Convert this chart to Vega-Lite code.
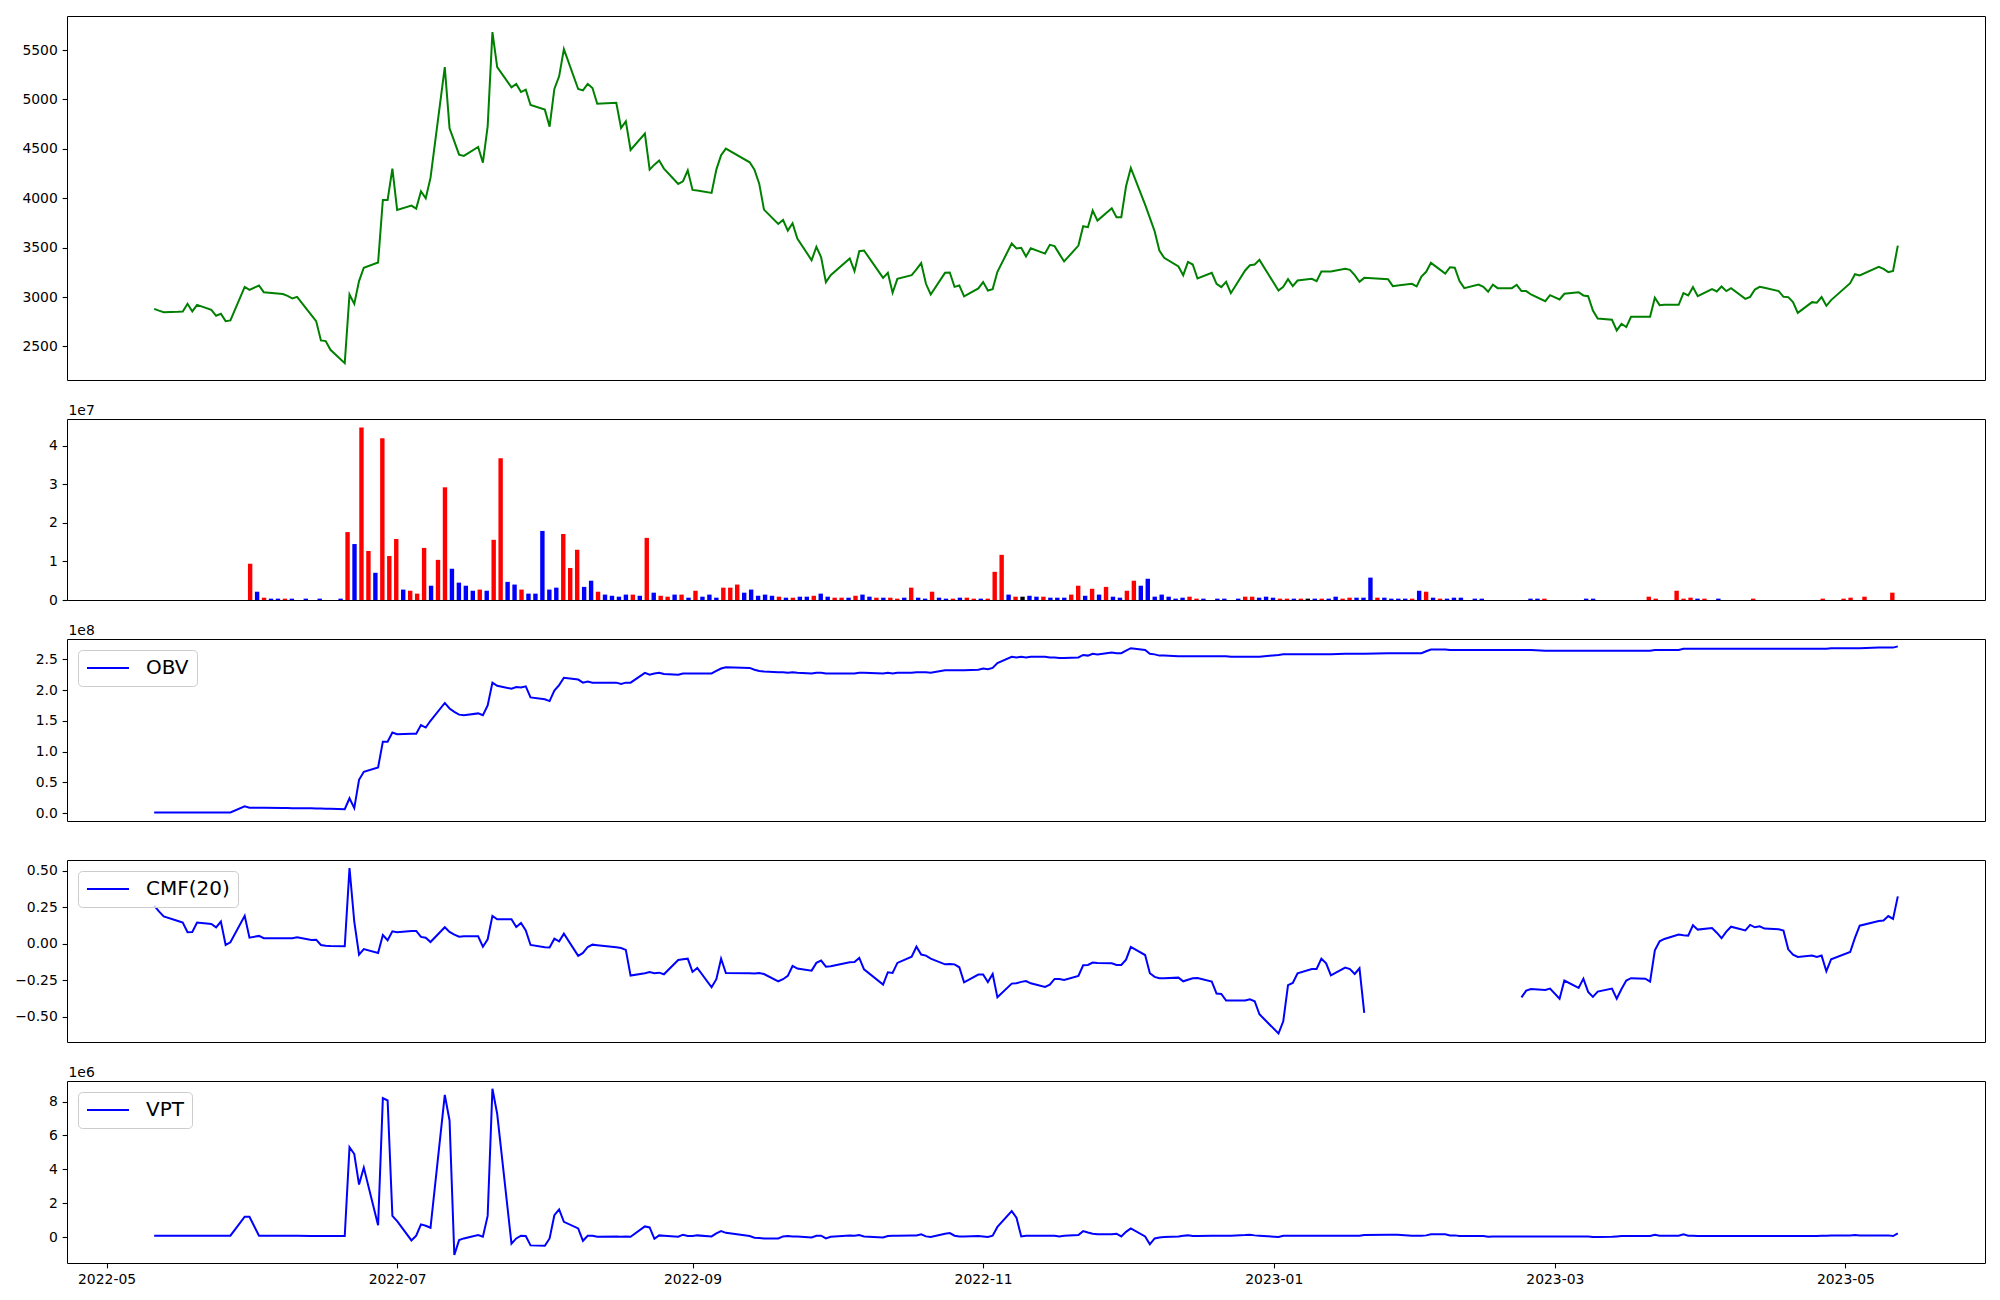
{
"$schema": "https://vega.github.io/schema/vega-lite/v6.json",
"padding": {"left": 14, "top": 15, "right": 0, "bottom": 0},
"background": "white",
"config": {
 "view": {"stroke": "black", "strokeWidth": 1},
 "font": "DejaVu Sans",
 "axis": {"grid": false, "domain": false, "tickColor": "black", "tickSize": 4.86, "tickWidth": 1.1, "labelPadding": 4.86, "labelFont": "DejaVu Sans", "labelFontSize": 13.9, "labelColor": "black", "titleFont": "DejaVu Sans", "titleFontSize": 13.9, "titleFontWeight": "normal", "titleColor": "black", "labelFlush": false, "labelOverlap": false},
 "legend": {"orient": "top-left", "offset": 11, "padding": 8, "strokeColor": "#cccccc", "fillColor": "rgba(255,255,255,0.8)", "cornerRadius": 4, "labelFont": "DejaVu Sans", "labelFontSize": 20, "labelColor": "black", "labelOffset": 16, "symbolType": "stroke", "symbolSize": 1764, "symbolStrokeWidth": 2, "clipHeight": 20}
},
"datasets": {
 "d": [
{"date":"2022-05-11","close":2880,"obv":1000000,"cmf":0.26,"vpt":80000},
{"date":"2022-05-12","close":2862,"obv":1000000,"cmf":0.221,"vpt":80000},
{"date":"2022-05-13","close":2847,"obv":1000000,"cmf":0.187,"vpt":80000},
{"date":"2022-05-16","close":2850,"obv":1000000,"cmf":0.155,"vpt":80000},
{"date":"2022-05-17","close":2853,"obv":1000000,"cmf":0.145,"vpt":80000},
{"date":"2022-05-18","close":2931,"obv":1000000,"cmf":0.078,"vpt":80000},
{"date":"2022-05-19","close":2854,"obv":1000000,"cmf":0.08,"vpt":80000},
{"date":"2022-05-20","close":2921,"obv":1000000,"cmf":0.144,"vpt":80000},
{"date":"2022-05-23","close":2871,"obv":1000000,"cmf":0.135,"vpt":80000},
{"date":"2022-05-24","close":2810,"obv":1000000,"cmf":0.112,"vpt":80000},
{"date":"2022-05-25","close":2830,"obv":1000000,"cmf":0.151,"vpt":80000},
{"date":"2022-05-26","close":2756,"obv":1000000,"cmf":-0.009,"vpt":80000},
{"date":"2022-05-27","close":2763,"obv":1000000,"cmf":0.009,"vpt":80000},
{"date":"2022-05-30","close":3103,"obv":10800000,"cmf":0.19,"vpt":1200000},
{"date":"2022-05-31","close":3073,"obv":8700000,"cmf":0.041,"vpt":1200000},
{"date":"2022-06-02","close":3117,"obv":8700000,"cmf":0.053,"vpt":80000},
{"date":"2022-06-03","close":3049,"obv":8500000,"cmf":0.037,"vpt":80000},
{"date":"2022-06-07","close":3030,"obv":8300000,"cmf":0.037,"vpt":80000},
{"date":"2022-06-08","close":3012,"obv":8100000,"cmf":0.037,"vpt":80000},
{"date":"2022-06-09","close":2985,"obv":7900000,"cmf":0.037,"vpt":80000},
{"date":"2022-06-10","close":3002,"obv":7900000,"cmf":0.043,"vpt":80000},
{"date":"2022-06-13","close":2817,"obv":7700000,"cmf":0.025,"vpt":70000},
{"date":"2022-06-14","close":2756,"obv":7500000,"cmf":0.027,"vpt":60000},
{"date":"2022-06-15","close":2561,"obv":7300000,"cmf":-0.009,"vpt":60000},
{"date":"2022-06-16","close":2554,"obv":7100000,"cmf":-0.014,"vpt":60000},
{"date":"2022-06-17","close":2466,"obv":6800000,"cmf":-0.016,"vpt":60000},
{"date":"2022-06-20","close":2331,"obv":6200000,"cmf":-0.018,"vpt":60000},
{"date":"2022-06-21","close":3026,"obv":24000000,"cmf":0.518,"vpt":5300000},
{"date":"2022-06-22","close":2931,"obv":8000000,"cmf":0.15,"vpt":4900000},
{"date":"2022-06-23","close":3161,"obv":54000000,"cmf":-0.075,"vpt":3100000},
{"date":"2022-06-24","close":3296,"obv":67000000,"cmf":-0.037,"vpt":4100000},
{"date":"2022-06-27","close":3349,"obv":74000000,"cmf":-0.064,"vpt":700000},
{"date":"2022-06-28","close":3983,"obv":116000000,"cmf":0.059,"vpt":8200000},
{"date":"2022-06-29","close":3983,"obv":116000000,"cmf":0.023,"vpt":8060000},
{"date":"2022-06-30","close":4300,"obv":131000000,"cmf":0.084,"vpt":1250000},
{"date":"2022-07-01","close":3882,"obv":128000000,"cmf":0.078,"vpt":940000},
{"date":"2022-07-04","close":3926,"obv":129000000,"cmf":0.087,"vpt":-200000},
{"date":"2022-07-05","close":3895,"obv":129000000,"cmf":0.087,"vpt":80000},
{"date":"2022-07-06","close":4071,"obv":143000000,"cmf":0.046,"vpt":750000},
{"date":"2022-07-07","close":4000,"obv":139000000,"cmf":0.041,"vpt":670000},
{"date":"2022-07-08","close":4206,"obv":150000000,"cmf":0.011,"vpt":550000},
{"date":"2022-07-11","close":5328,"obv":179000000,"cmf":0.112,"vpt":8390000},
{"date":"2022-07-12","close":4708,"obv":170000000,"cmf":0.08,"vpt":6880000},
{"date":"2022-07-13","close":4576,"obv":164500000,"cmf":0.062,"vpt":-1060000},
{"date":"2022-07-14","close":4442,"obv":160000000,"cmf":0.048,"vpt":-180000},
{"date":"2022-07-15","close":4428,"obv":159000000,"cmf":0.05,"vpt":-80000},
{"date":"2022-07-18","close":4519,"obv":162000000,"cmf":0.05,"vpt":120000},
{"date":"2022-07-19","close":4361,"obv":159000000,"cmf":-0.021,"vpt":20000},
{"date":"2022-07-20","close":4728,"obv":175000000,"cmf":0.03,"vpt":1250000},
{"date":"2022-07-21","close":5682,"obv":212000000,"cmf":0.19,"vpt":8750000},
{"date":"2022-07-22","close":5328,"obv":207000000,"cmf":0.167,"vpt":7270000},
{"date":"2022-07-25","close":5123,"obv":202000000,"cmf":0.167,"vpt":-390000},
{"date":"2022-07-26","close":5157,"obv":205000000,"cmf":0.114,"vpt":-80000},
{"date":"2022-07-27","close":5075,"obv":204000000,"cmf":0.142,"vpt":80000},
{"date":"2022-07-28","close":5099,"obv":206000000,"cmf":0.091,"vpt":60000},
{"date":"2022-07-29","close":4944,"obv":188000000,"cmf":-0.009,"vpt":-490000},
{"date":"2022-08-01","close":4897,"obv":185000000,"cmf":-0.025,"vpt":-510000},
{"date":"2022-08-02","close":4725,"obv":182000000,"cmf":-0.027,"vpt":-80000},
{"date":"2022-08-03","close":5106,"obv":199000000,"cmf":0.034,"vpt":1290000},
{"date":"2022-08-04","close":5234,"obv":208000000,"cmf":0.016,"vpt":1630000},
{"date":"2022-08-05","close":5510,"obv":220000000,"cmf":0.068,"vpt":900000},
{"date":"2022-08-08","close":5106,"obv":217000000,"cmf":-0.084,"vpt":510000},
{"date":"2022-08-09","close":5092,"obv":212000000,"cmf":-0.064,"vpt":-220000},
{"date":"2022-08-10","close":5157,"obv":214000000,"cmf":-0.023,"vpt":80000},
{"date":"2022-08-11","close":5116,"obv":212000000,"cmf":-0.007,"vpt":80000},
{"date":"2022-08-12","close":4957,"obv":212000000,"cmf":-0.011,"vpt":20000},
{"date":"2022-08-16","close":4967,"obv":212000000,"cmf":-0.025,"vpt":40000},
{"date":"2022-08-17","close":4711,"obv":210000000,"cmf":-0.03,"vpt":20000},
{"date":"2022-08-18","close":4779,"obv":212000000,"cmf":-0.043,"vpt":40000},
{"date":"2022-08-19","close":4489,"obv":212000000,"cmf":-0.219,"vpt":20000},
{"date":"2022-08-22","close":4654,"obv":228000000,"cmf":-0.203,"vpt":630000},
{"date":"2022-08-23","close":4290,"obv":225000000,"cmf":-0.194,"vpt":570000},
{"date":"2022-08-24","close":4340,"obv":227000000,"cmf":-0.203,"vpt":-100000},
{"date":"2022-08-25","close":4381,"obv":228000000,"cmf":-0.199,"vpt":100000},
{"date":"2022-08-26","close":4300,"obv":226000000,"cmf":-0.21,"vpt":80000},
{"date":"2022-08-29","close":4145,"obv":225000000,"cmf":-0.112,"vpt":20000},
{"date":"2022-08-30","close":4172,"obv":227000000,"cmf":-0.107,"vpt":140000},
{"date":"2022-08-31","close":4283,"obv":227000000,"cmf":-0.103,"vpt":60000},
{"date":"2022-09-01","close":4084,"obv":227000000,"cmf":-0.194,"vpt":60000},
{"date":"2022-09-02","close":4078,"obv":227000000,"cmf":-0.167,"vpt":100000},
{"date":"2022-09-05","close":4054,"obv":227000000,"cmf":-0.299,"vpt":40000},
{"date":"2022-09-06","close":4290,"obv":231000000,"cmf":-0.244,"vpt":220000},
{"date":"2022-09-07","close":4435,"obv":235000000,"cmf":-0.103,"vpt":350000},
{"date":"2022-09-08","close":4502,"obv":237000000,"cmf":-0.201,"vpt":250000},
{"date":"2022-09-13","close":4364,"obv":236000000,"cmf":-0.203,"vpt":60000},
{"date":"2022-09-14","close":4290,"obv":233000000,"cmf":-0.205,"vpt":-40000},
{"date":"2022-09-15","close":4148,"obv":231000000,"cmf":-0.201,"vpt":-60000},
{"date":"2022-09-16","close":3885,"obv":230000000,"cmf":-0.208,"vpt":-80000},
{"date":"2022-09-19","close":3740,"obv":229000000,"cmf":-0.258,"vpt":-80000},
{"date":"2022-09-20","close":3781,"obv":229000000,"cmf":-0.244,"vpt":40000},
{"date":"2022-09-21","close":3673,"obv":228000000,"cmf":-0.221,"vpt":60000},
{"date":"2022-09-22","close":3747,"obv":229000000,"cmf":-0.153,"vpt":40000},
{"date":"2022-09-23","close":3592,"obv":228000000,"cmf":-0.171,"vpt":40000},
{"date":"2022-09-26","close":3373,"obv":227000000,"cmf":-0.185,"vpt":-20000},
{"date":"2022-09-27","close":3508,"obv":228000000,"cmf":-0.132,"vpt":80000},
{"date":"2022-09-28","close":3403,"obv":228000000,"cmf":-0.116,"vpt":80000},
{"date":"2022-09-29","close":3151,"obv":227000000,"cmf":-0.158,"vpt":-80000},
{"date":"2022-09-30","close":3221,"obv":227000000,"cmf":-0.155,"vpt":20000},
{"date":"2022-10-04","close":3390,"obv":227000000,"cmf":-0.128,"vpt":100000},
{"date":"2022-10-05","close":3262,"obv":227000000,"cmf":-0.126,"vpt":80000},
{"date":"2022-10-06","close":3464,"obv":228000000,"cmf":-0.098,"vpt":120000},
{"date":"2022-10-07","close":3471,"obv":228000000,"cmf":-0.176,"vpt":40000},
{"date":"2022-10-11","close":3194,"obv":227000000,"cmf":-0.281,"vpt":-20000},
{"date":"2022-10-12","close":3245,"obv":228000000,"cmf":-0.196,"vpt":60000},
{"date":"2022-10-13","close":3043,"obv":227000000,"cmf":-0.201,"vpt":80000},
{"date":"2022-10-14","close":3184,"obv":228000000,"cmf":-0.132,"vpt":80000},
{"date":"2022-10-17","close":3221,"obv":228000000,"cmf":-0.089,"vpt":100000},
{"date":"2022-10-18","close":3279,"obv":229000000,"cmf":-0.021,"vpt":100000},
{"date":"2022-10-19","close":3343,"obv":229000000,"cmf":-0.075,"vpt":160000},
{"date":"2022-10-20","close":3134,"obv":229000000,"cmf":-0.082,"vpt":40000},
{"date":"2022-10-21","close":3026,"obv":228000000,"cmf":-0.103,"vpt":0},
{"date":"2022-10-24","close":3245,"obv":232000000,"cmf":-0.142,"vpt":200000},
{"date":"2022-10-25","close":3248,"obv":232000000,"cmf":-0.139,"vpt":240000},
{"date":"2022-10-26","close":3103,"obv":232000000,"cmf":-0.142,"vpt":80000},
{"date":"2022-10-27","close":3117,"obv":232000000,"cmf":-0.162,"vpt":40000},
{"date":"2022-10-28","close":3006,"obv":232000000,"cmf":-0.265,"vpt":40000},
{"date":"2022-10-31","close":3087,"obv":233000000,"cmf":-0.212,"vpt":60000},
{"date":"2022-11-01","close":3151,"obv":235000000,"cmf":-0.212,"vpt":40000},
{"date":"2022-11-02","close":3066,"obv":234000000,"cmf":-0.263,"vpt":0},
{"date":"2022-11-03","close":3080,"obv":236000000,"cmf":-0.208,"vpt":80000},
{"date":"2022-11-04","close":3255,"obv":244000000,"cmf":-0.368,"vpt":600000},
{"date":"2022-11-07","close":3542,"obv":254000000,"cmf":-0.274,"vpt":1530000},
{"date":"2022-11-08","close":3491,"obv":253000000,"cmf":-0.272,"vpt":1140000},
{"date":"2022-11-09","close":3498,"obv":254000000,"cmf":-0.262,"vpt":40000},
{"date":"2022-11-10","close":3410,"obv":253000000,"cmf":-0.256,"vpt":80000},
{"date":"2022-11-11","close":3494,"obv":254000000,"cmf":-0.272,"vpt":80000},
{"date":"2022-11-14","close":3440,"obv":254000000,"cmf":-0.297,"vpt":80000},
{"date":"2022-11-15","close":3528,"obv":253000000,"cmf":-0.281,"vpt":80000},
{"date":"2022-11-16","close":3515,"obv":253000000,"cmf":-0.242,"vpt":80000},
{"date":"2022-11-17","close":3437,"obv":252000000,"cmf":-0.242,"vpt":40000},
{"date":"2022-11-18","close":3360,"obv":252000000,"cmf":-0.249,"vpt":80000},
{"date":"2022-11-21","close":3521,"obv":253000000,"cmf":-0.221,"vpt":120000},
{"date":"2022-11-22","close":3717,"obv":257000000,"cmf":-0.148,"vpt":350000},
{"date":"2022-11-23","close":3707,"obv":256000000,"cmf":-0.146,"vpt":270000},
{"date":"2022-11-24","close":3875,"obv":259000000,"cmf":-0.13,"vpt":200000},
{"date":"2022-11-25","close":3774,"obv":258000000,"cmf":-0.132,"vpt":160000},
{"date":"2022-11-28","close":3899,"obv":261000000,"cmf":-0.135,"vpt":160000},
{"date":"2022-11-29","close":3808,"obv":260000000,"cmf":-0.146,"vpt":200000},
{"date":"2022-11-30","close":3808,"obv":260000000,"cmf":-0.146,"vpt":40000},
{"date":"2022-12-01","close":4121,"obv":264000000,"cmf":-0.11,"vpt":310000},
{"date":"2022-12-02","close":4307,"obv":268000000,"cmf":-0.023,"vpt":510000},
{"date":"2022-12-05","close":3936,"obv":265000000,"cmf":-0.078,"vpt":40000},
{"date":"2022-12-06","close":3801,"obv":259000000,"cmf":-0.203,"vpt":-430000},
{"date":"2022-12-07","close":3666,"obv":258000000,"cmf":-0.228,"vpt":-80000},
{"date":"2022-12-08","close":3471,"obv":256000000,"cmf":-0.237,"vpt":-20000},
{"date":"2022-12-09","close":3397,"obv":256000000,"cmf":-0.237,"vpt":0},
{"date":"2022-12-12","close":3309,"obv":255000000,"cmf":-0.233,"vpt":40000},
{"date":"2022-12-13","close":3221,"obv":255000000,"cmf":-0.258,"vpt":80000},
{"date":"2022-12-14","close":3356,"obv":255000000,"cmf":-0.247,"vpt":100000},
{"date":"2022-12-15","close":3329,"obv":255000000,"cmf":-0.237,"vpt":60000},
{"date":"2022-12-16","close":3188,"obv":255000000,"cmf":-0.235,"vpt":60000},
{"date":"2022-12-19","close":3245,"obv":255000000,"cmf":-0.26,"vpt":80000},
{"date":"2022-12-20","close":3134,"obv":255000000,"cmf":-0.342,"vpt":80000},
{"date":"2022-12-21","close":3100,"obv":255000000,"cmf":-0.345,"vpt":80000},
{"date":"2022-12-22","close":3154,"obv":255000000,"cmf":-0.39,"vpt":80000},
{"date":"2022-12-23","close":3039,"obv":254000000,"cmf":-0.39,"vpt":80000},
{"date":"2022-12-26","close":3269,"obv":254000000,"cmf":-0.39,"vpt":120000},
{"date":"2022-12-27","close":3322,"obv":254000000,"cmf":-0.381,"vpt":140000},
{"date":"2022-12-28","close":3329,"obv":254000000,"cmf":-0.395,"vpt":100000},
{"date":"2022-12-29","close":3376,"obv":254000000,"cmf":-0.484,"vpt":80000},
{"date":"2023-01-02","close":3066,"obv":257000000,"cmf":-0.616,"vpt":0},
{"date":"2023-01-03","close":3103,"obv":258000000,"cmf":-0.532,"vpt":80000},
{"date":"2023-01-04","close":3181,"obv":258000000,"cmf":-0.285,"vpt":80000},
{"date":"2023-01-05","close":3110,"obv":258000000,"cmf":-0.269,"vpt":80000},
{"date":"2023-01-06","close":3167,"obv":258000000,"cmf":-0.203,"vpt":80000},
{"date":"2023-01-09","close":3184,"obv":258000000,"cmf":-0.174,"vpt":80000},
{"date":"2023-01-10","close":3161,"obv":258000000,"cmf":-0.174,"vpt":80000},
{"date":"2023-01-11","close":3258,"obv":258000000,"cmf":-0.103,"vpt":80000},
{"date":"2023-01-12","close":3258,"obv":258000000,"cmf":-0.135,"vpt":80000},
{"date":"2023-01-13","close":3258,"obv":258000000,"cmf":-0.217,"vpt":80000},
{"date":"2023-01-16","close":3285,"obv":259000000,"cmf":-0.164,"vpt":80000},
{"date":"2023-01-17","close":3275,"obv":259000000,"cmf":-0.174,"vpt":80000},
{"date":"2023-01-18","close":3221,"obv":259000000,"cmf":-0.208,"vpt":80000},
{"date":"2023-01-19","close":3154,"obv":259000000,"cmf":-0.169,"vpt":80000},
{"date":"2023-01-20","close":3194,"obv":259000000,"cmf":-0.475,"vpt":120000},
{"date":"2023-01-25","close":3181,"obv":260000000,"cmf":null,"vpt":140000},
{"date":"2023-01-26","close":3110,"obv":260000000,"cmf":null,"vpt":140000},
{"date":"2023-01-27","close":3117,"obv":260000000,"cmf":null,"vpt":140000},
{"date":"2023-01-30","close":3134,"obv":260000000,"cmf":null,"vpt":80000},
{"date":"2023-01-31","close":3107,"obv":260000000,"cmf":null,"vpt":80000},
{"date":"2023-02-01","close":3208,"obv":260000000,"cmf":null,"vpt":80000},
{"date":"2023-02-02","close":3255,"obv":263000000,"cmf":null,"vpt":100000},
{"date":"2023-02-03","close":3346,"obv":266000000,"cmf":null,"vpt":160000},
{"date":"2023-02-06","close":3238,"obv":266000000,"cmf":null,"vpt":160000},
{"date":"2023-02-07","close":3302,"obv":265000000,"cmf":null,"vpt":100000},
{"date":"2023-02-08","close":3296,"obv":265000000,"cmf":null,"vpt":100000},
{"date":"2023-02-09","close":3161,"obv":265000000,"cmf":null,"vpt":60000},
{"date":"2023-02-10","close":3090,"obv":265000000,"cmf":null,"vpt":60000},
{"date":"2023-02-13","close":3127,"obv":265000000,"cmf":null,"vpt":60000},
{"date":"2023-02-14","close":3103,"obv":265000000,"cmf":null,"vpt":60000},
{"date":"2023-02-15","close":3053,"obv":265000000,"cmf":null,"vpt":20000},
{"date":"2023-02-16","close":3124,"obv":265000000,"cmf":null,"vpt":40000},
{"date":"2023-02-17","close":3090,"obv":265000000,"cmf":null,"vpt":40000},
{"date":"2023-02-20","close":3090,"obv":265000000,"cmf":null,"vpt":40000},
{"date":"2023-02-21","close":3124,"obv":265000000,"cmf":null,"vpt":40000},
{"date":"2023-02-22","close":3060,"obv":265000000,"cmf":-0.368,"vpt":40000},
{"date":"2023-02-23","close":3060,"obv":265000000,"cmf":-0.322,"vpt":40000},
{"date":"2023-02-24","close":3026,"obv":265000000,"cmf":-0.311,"vpt":40000},
{"date":"2023-02-27","close":2958,"obv":264000000,"cmf":-0.317,"vpt":40000},
{"date":"2023-02-28","close":3019,"obv":264000000,"cmf":-0.308,"vpt":40000},
{"date":"2023-03-02","close":2975,"obv":264000000,"cmf":-0.377,"vpt":40000},
{"date":"2023-03-03","close":3033,"obv":264000000,"cmf":-0.253,"vpt":40000},
{"date":"2023-03-06","close":3049,"obv":264000000,"cmf":-0.304,"vpt":40000},
{"date":"2023-03-07","close":3016,"obv":264000000,"cmf":-0.24,"vpt":40000},
{"date":"2023-03-08","close":3009,"obv":264000000,"cmf":-0.331,"vpt":40000},
{"date":"2023-03-09","close":2864,"obv":264000000,"cmf":-0.365,"vpt":0},
{"date":"2023-03-10","close":2783,"obv":264000000,"cmf":-0.329,"vpt":0},
{"date":"2023-03-13","close":2770,"obv":264000000,"cmf":-0.308,"vpt":20000},
{"date":"2023-03-14","close":2662,"obv":264000000,"cmf":-0.377,"vpt":40000},
{"date":"2023-03-15","close":2729,"obv":264000000,"cmf":-0.311,"vpt":60000},
{"date":"2023-03-16","close":2696,"obv":264000000,"cmf":-0.253,"vpt":60000},
{"date":"2023-03-17","close":2800,"obv":264000000,"cmf":-0.237,"vpt":60000},
{"date":"2023-03-20","close":2800,"obv":264000000,"cmf":-0.24,"vpt":60000},
{"date":"2023-03-21","close":2800,"obv":264000000,"cmf":-0.26,"vpt":60000},
{"date":"2023-03-22","close":2992,"obv":265000000,"cmf":-0.046,"vpt":140000},
{"date":"2023-03-23","close":2918,"obv":265000000,"cmf":0.016,"vpt":80000},
{"date":"2023-03-24","close":2921,"obv":265000000,"cmf":0.032,"vpt":80000},
{"date":"2023-03-27","close":2921,"obv":265000000,"cmf":0.062,"vpt":80000},
{"date":"2023-03-28","close":3039,"obv":267000000,"cmf":0.057,"vpt":160000},
{"date":"2023-03-29","close":3016,"obv":267000000,"cmf":0.055,"vpt":80000},
{"date":"2023-03-30","close":3100,"obv":267000000,"cmf":0.126,"vpt":80000},
{"date":"2023-03-31","close":3009,"obv":267000000,"cmf":0.096,"vpt":60000},
{"date":"2023-04-03","close":3080,"obv":267000000,"cmf":0.107,"vpt":60000},
{"date":"2023-04-04","close":3056,"obv":267000000,"cmf":0.075,"vpt":60000},
{"date":"2023-04-05","close":3107,"obv":267000000,"cmf":0.037,"vpt":60000},
{"date":"2023-04-06","close":3060,"obv":267000000,"cmf":0.082,"vpt":60000},
{"date":"2023-04-07","close":3090,"obv":267000000,"cmf":0.116,"vpt":60000},
{"date":"2023-04-10","close":2982,"obv":267000000,"cmf":0.091,"vpt":60000},
{"date":"2023-04-11","close":3002,"obv":267000000,"cmf":0.128,"vpt":60000},
{"date":"2023-04-12","close":3076,"obv":267000000,"cmf":0.112,"vpt":60000},
{"date":"2023-04-13","close":3103,"obv":267000000,"cmf":0.119,"vpt":60000},
{"date":"2023-04-14","close":3093,"obv":267000000,"cmf":0.103,"vpt":60000},
{"date":"2023-04-17","close":3060,"obv":267000000,"cmf":0.098,"vpt":60000},
{"date":"2023-04-18","close":3002,"obv":267000000,"cmf":0.089,"vpt":60000},
{"date":"2023-04-19","close":2999,"obv":267000000,"cmf":-0.039,"vpt":60000},
{"date":"2023-04-20","close":2948,"obv":267000000,"cmf":-0.075,"vpt":60000},
{"date":"2023-04-21","close":2840,"obv":267000000,"cmf":-0.091,"vpt":60000},
{"date":"2023-04-24","close":2948,"obv":267000000,"cmf":-0.082,"vpt":60000},
{"date":"2023-04-25","close":2942,"obv":267000000,"cmf":-0.091,"vpt":60000},
{"date":"2023-04-26","close":2999,"obv":267000000,"cmf":-0.082,"vpt":80000},
{"date":"2023-04-27","close":2911,"obv":267000000,"cmf":-0.189,"vpt":80000},
{"date":"2023-04-28","close":2969,"obv":268000000,"cmf":-0.107,"vpt":100000},
{"date":"2023-05-02","close":3140,"obv":268000000,"cmf":-0.057,"vpt":100000},
{"date":"2023-05-03","close":3231,"obv":268000000,"cmf":0.039,"vpt":120000},
{"date":"2023-05-04","close":3218,"obv":268000000,"cmf":0.123,"vpt":100000},
{"date":"2023-05-08","close":3306,"obv":269000000,"cmf":0.155,"vpt":100000},
{"date":"2023-05-09","close":3285,"obv":269000000,"cmf":0.158,"vpt":100000},
{"date":"2023-05-10","close":3252,"obv":269000000,"cmf":0.189,"vpt":100000},
{"date":"2023-05-11","close":3265,"obv":269000000,"cmf":0.169,"vpt":60000},
{"date":"2023-05-12","close":3521,"obv":271000000,"cmf":0.324,"vpt":220000}
 ],
 "v": [
{"i":0,"volume":9400000,"dir":"u"},{"i":1,"volume":2150000,"dir":"d"},{"i":2,"volume":600000,"dir":"u"},{"i":3,"volume":350000,"dir":"d"},{"i":4,"volume":350000,"dir":"d"},{"i":5,"volume":350000,"dir":"u"},{"i":6,"volume":350000,"dir":"d"},{"i":8,"volume":350000,"dir":"d"},{"i":10,"volume":350000,"dir":"d"},{"i":13,"volume":350000,"dir":"d"},
{"i":14,"volume":17600000,"dir":"u"},{"i":15,"volume":14500000,"dir":"d"},{"i":16,"volume":44700000,"dir":"u"},{"i":17,"volume":12700000,"dir":"u"},{"i":18,"volume":7050000,"dir":"d"},{"i":19,"volume":41900000,"dir":"u"},{"i":20,"volume":11400000,"dir":"u"},{"i":21,"volume":15800000,"dir":"u"},{"i":22,"volume":2700000,"dir":"d"},{"i":23,"volume":2400000,"dir":"u"},
{"i":24,"volume":1650000,"dir":"u"},{"i":25,"volume":13500000,"dir":"u"},{"i":26,"volume":3700000,"dir":"d"},{"i":27,"volume":10400000,"dir":"u"},{"i":28,"volume":29200000,"dir":"u"},{"i":29,"volume":8100000,"dir":"d"},{"i":30,"volume":4500000,"dir":"d"},{"i":31,"volume":3700000,"dir":"d"},{"i":32,"volume":2400000,"dir":"d"},{"i":33,"volume":2700000,"dir":"u"},
{"i":34,"volume":2400000,"dir":"d"},{"i":35,"volume":15600000,"dir":"u"},{"i":36,"volume":36700000,"dir":"u"},{"i":37,"volume":4700000,"dir":"d"},{"i":38,"volume":4000000,"dir":"d"},{"i":39,"volume":2700000,"dir":"u"},{"i":40,"volume":1650000,"dir":"d"},{"i":41,"volume":1650000,"dir":"d"},{"i":42,"volume":17900000,"dir":"d"},{"i":43,"volume":2700000,"dir":"d"},
{"i":44,"volume":3200000,"dir":"d"},{"i":45,"volume":17100000,"dir":"u"},{"i":46,"volume":8300000,"dir":"u"},{"i":47,"volume":13000000,"dir":"u"},{"i":48,"volume":3400000,"dir":"d"},{"i":49,"volume":5000000,"dir":"d"},{"i":50,"volume":2150000,"dir":"u"},{"i":51,"volume":1400000,"dir":"d"},{"i":52,"volume":1100000,"dir":"d"},{"i":53,"volume":860000,"dir":"d"},
{"i":54,"volume":1400000,"dir":"d"},{"i":55,"volume":1400000,"dir":"u"},{"i":56,"volume":1100000,"dir":"d"},{"i":57,"volume":16100000,"dir":"u"},{"i":58,"volume":1900000,"dir":"d"},{"i":59,"volume":1100000,"dir":"u"},{"i":60,"volume":860000,"dir":"u"},{"i":61,"volume":1400000,"dir":"d"},{"i":62,"volume":1400000,"dir":"u"},{"i":63,"volume":600000,"dir":"d"},
{"i":64,"volume":2400000,"dir":"u"},{"i":65,"volume":860000,"dir":"d"},{"i":66,"volume":1400000,"dir":"d"},{"i":67,"volume":600000,"dir":"d"},{"i":68,"volume":3200000,"dir":"u"},{"i":69,"volume":3200000,"dir":"u"},{"i":70,"volume":4000000,"dir":"u"},{"i":71,"volume":1900000,"dir":"d"},{"i":72,"volume":2700000,"dir":"d"},{"i":73,"volume":1100000,"dir":"d"},
{"i":74,"volume":1400000,"dir":"d"},{"i":75,"volume":1100000,"dir":"d"},{"i":76,"volume":860000,"dir":"u"},{"i":77,"volume":600000,"dir":"d"},{"i":78,"volume":600000,"dir":"u"},{"i":79,"volume":860000,"dir":"d"},{"i":80,"volume":860000,"dir":"d"},{"i":81,"volume":1100000,"dir":"u"},{"i":82,"volume":1650000,"dir":"d"},{"i":83,"volume":860000,"dir":"d"},
{"i":84,"volume":600000,"dir":"u"},{"i":85,"volume":600000,"dir":"u"},{"i":86,"volume":600000,"dir":"d"},{"i":87,"volume":1100000,"dir":"u"},{"i":88,"volume":1400000,"dir":"d"},{"i":89,"volume":860000,"dir":"d"},{"i":90,"volume":600000,"dir":"u"},{"i":91,"volume":600000,"dir":"d"},{"i":92,"volume":600000,"dir":"u"},{"i":93,"volume":350000,"dir":"u"},
{"i":94,"volume":600000,"dir":"d"},{"i":95,"volume":3200000,"dir":"u"},{"i":96,"volume":600000,"dir":"d"},{"i":97,"volume":350000,"dir":"d"},{"i":98,"volume":2150000,"dir":"u"},{"i":99,"volume":600000,"dir":"d"},{"i":100,"volume":350000,"dir":"d"},{"i":101,"volume":350000,"dir":"u"},{"i":102,"volume":600000,"dir":"d"},{"i":103,"volume":600000,"dir":"u"},
{"i":104,"volume":350000,"dir":"u"},{"i":105,"volume":350000,"dir":"d"},{"i":106,"volume":350000,"dir":"u"},{"i":107,"volume":7300000,"dir":"u"},{"i":108,"volume":11700000,"dir":"u"},{"i":109,"volume":1400000,"dir":"d"},{"i":110,"volume":860000,"dir":"u"},{"i":111,"volume":860000,"dir":"f"},{"i":112,"volume":1100000,"dir":"d"},{"i":113,"volume":860000,"dir":"d"},
{"i":114,"volume":860000,"dir":"u"},{"i":115,"volume":600000,"dir":"d"},{"i":116,"volume":600000,"dir":"d"},{"i":117,"volume":600000,"dir":"d"},{"i":118,"volume":1400000,"dir":"u"},{"i":119,"volume":3700000,"dir":"u"},{"i":120,"volume":1100000,"dir":"d"},{"i":121,"volume":2900000,"dir":"u"},{"i":122,"volume":1400000,"dir":"d"},{"i":123,"volume":3400000,"dir":"u"},
{"i":124,"volume":860000,"dir":"d"},{"i":125,"volume":600000,"dir":"d"},{"i":126,"volume":2400000,"dir":"u"},{"i":127,"volume":5000000,"dir":"u"},{"i":128,"volume":3700000,"dir":"d"},{"i":129,"volume":5500000,"dir":"d"},{"i":130,"volume":860000,"dir":"d"},{"i":131,"volume":1400000,"dir":"d"},{"i":132,"volume":860000,"dir":"d"},{"i":133,"volume":350000,"dir":"d"},
{"i":134,"volume":600000,"dir":"d"},{"i":135,"volume":860000,"dir":"u"},{"i":136,"volume":350000,"dir":"u"},{"i":137,"volume":350000,"dir":"d"},{"i":139,"volume":350000,"dir":"d"},{"i":140,"volume":350000,"dir":"d"},{"i":142,"volume":350000,"dir":"d"},{"i":143,"volume":860000,"dir":"u"},{"i":144,"volume":860000,"dir":"u"},{"i":145,"volume":600000,"dir":"d"},
{"i":146,"volume":860000,"dir":"d"},{"i":147,"volume":600000,"dir":"d"},{"i":148,"volume":350000,"dir":"u"},{"i":149,"volume":350000,"dir":"u"},{"i":150,"volume":350000,"dir":"d"},{"i":151,"volume":350000,"dir":"u"},{"i":152,"volume":350000,"dir":"f"},{"i":153,"volume":350000,"dir":"d"},{"i":154,"volume":350000,"dir":"u"},{"i":155,"volume":350000,"dir":"d"},
{"i":156,"volume":860000,"dir":"d"},{"i":157,"volume":350000,"dir":"u"},{"i":158,"volume":600000,"dir":"u"},{"i":159,"volume":600000,"dir":"d"},{"i":160,"volume":600000,"dir":"d"},{"i":161,"volume":5800000,"dir":"d"},{"i":162,"volume":600000,"dir":"u"},{"i":163,"volume":600000,"dir":"d"},{"i":164,"volume":350000,"dir":"d"},{"i":165,"volume":350000,"dir":"d"},
{"i":166,"volume":350000,"dir":"d"},{"i":167,"volume":350000,"dir":"u"},{"i":168,"volume":2400000,"dir":"d"},{"i":169,"volume":2150000,"dir":"u"},{"i":170,"volume":600000,"dir":"d"},{"i":171,"volume":350000,"dir":"u"},{"i":172,"volume":350000,"dir":"d"},{"i":173,"volume":600000,"dir":"d"},{"i":174,"volume":600000,"dir":"d"},{"i":176,"volume":350000,"dir":"d"},
{"i":177,"volume":350000,"dir":"d"},{"i":184,"volume":350000,"dir":"d"},{"i":185,"volume":350000,"dir":"d"},{"i":186,"volume":350000,"dir":"u"},{"i":192,"volume":350000,"dir":"d"},{"i":193,"volume":350000,"dir":"d"},{"i":201,"volume":860000,"dir":"u"},{"i":202,"volume":350000,"dir":"u"},{"i":205,"volume":2400000,"dir":"u"},{"i":206,"volume":350000,"dir":"u"},
{"i":207,"volume":600000,"dir":"u"},{"i":208,"volume":350000,"dir":"d"},{"i":209,"volume":350000,"dir":"u"},{"i":211,"volume":350000,"dir":"d"},{"i":216,"volume":350000,"dir":"u"},{"i":226,"volume":350000,"dir":"u"},{"i":229,"volume":350000,"dir":"u"},{"i":230,"volume":600000,"dir":"u"},{"i":232,"volume":860000,"dir":"u"},{"i":236,"volume":1900000,"dir":"u"}
 ]
},
"spacing": 39,
"bounds": "flush",
"resolve": {"scale": {"x": "independent", "y": "independent", "color": "independent"}, "legend": {"color": "independent"}, "axis": {"x": "independent", "y": "independent"}},
"vconcat": [
 {
  "width": 1918, "height": 364,
  "data": {"name": "d"},
  "mark": {"type": "line", "color": "#008000", "strokeWidth": 2},
  "encoding": {
   "x": {"field": "date", "type": "temporal", "scale": {"type": "utc", "domain": [{"year": 2022, "month": 4, "date": 22, "hours": 16, "minutes": 48, "utc": true}, {"year": 2023, "month": 5, "date": 30, "hours": 7, "minutes": 12, "utc": true}]}, "axis": null},
   "y": {"field": "close", "type": "quantitative", "scale": {"domain": [2160, 5845], "nice": false, "zero": false}, "axis": {"values": [2500, 3000, 3500, 4000, 4500, 5000, 5500], "format": "d", "title": null}}
  }
 },
 {
  "width": 1918, "height": 181,
  "data": {"name": "v"},
  "mark": {"type": "bar", "width": 4.4},
  "encoding": {
   "x": {"field": "i", "type": "quantitative", "scale": {"domain": [-25.6, 248.6], "nice": false, "zero": false}, "axis": null},
   "y": {"field": "volume", "type": "quantitative", "scale": {"domain": [0, 46900000], "nice": false}, "axis": {"values": [0, 10000000, 20000000, 30000000, 40000000], "labelExpr": "format(datum.value / 10000000, 'd')", "title": "1e7", "titleAngle": 0, "titleAlign": "left", "titleBaseline": "alphabetic", "titleX": 1, "titleY": -4.5}},
   "color": {"field": "dir", "type": "nominal", "scale": {"domain": ["u", "d", "f"], "range": ["#ff0000", "#0000ff", "#000000"]}, "legend": null}
  }
 },
 {
  "width": 1918, "height": 182,
  "data": {"name": "d"},
  "mark": {"type": "line", "strokeWidth": 2},
  "encoding": {
   "x": {"field": "date", "type": "temporal", "scale": {"type": "utc", "domain": [{"year": 2022, "month": 4, "date": 22, "hours": 16, "minutes": 48, "utc": true}, {"year": 2023, "month": 5, "date": 30, "hours": 7, "minutes": 12, "utc": true}]}, "axis": null},
   "y": {"field": "obv", "type": "quantitative", "scale": {"domain": [-13000000, 283000000], "nice": false, "zero": false}, "axis": {"values": [0, 50000000, 100000000, 150000000, 200000000, 250000000], "labelExpr": "format(datum.value / 100000000, '.1f')", "title": "1e8", "titleAngle": 0, "titleAlign": "left", "titleBaseline": "alphabetic", "titleX": 1, "titleY": -4.5}},
   "color": {"datum": "OBV", "type": "nominal", "scale": {"range": ["#0000ff"]}, "legend": {"title": null}}
  }
 },
 {
  "width": 1918, "height": 182,
  "data": {"name": "d"},
  "mark": {"type": "line", "strokeWidth": 2, "invalid": "break-paths-show-domains"},
  "encoding": {
   "x": {"field": "date", "type": "temporal", "scale": {"type": "utc", "domain": [{"year": 2022, "month": 4, "date": 22, "hours": 16, "minutes": 48, "utc": true}, {"year": 2023, "month": 5, "date": 30, "hours": 7, "minutes": 12, "utc": true}]}, "axis": null},
   "y": {"field": "cmf", "type": "quantitative", "scale": {"domain": [-0.674, 0.573], "nice": false, "zero": false}, "axis": {"values": [-0.5, -0.25, 0, 0.25, 0.5], "format": ".2f", "title": null}},
   "color": {"datum": "CMF(20)", "type": "nominal", "scale": {"range": ["#0000ff"]}, "legend": {"title": null}}
  }
 },
 {
  "width": 1918, "height": 182,
  "data": {"name": "d"},
  "mark": {"type": "line", "strokeWidth": 2},
  "encoding": {
   "x": {"field": "date", "type": "temporal", "scale": {"type": "utc", "domain": [{"year": 2022, "month": 4, "date": 22, "hours": 16, "minutes": 48, "utc": true}, {"year": 2023, "month": 5, "date": 30, "hours": 7, "minutes": 12, "utc": true}]}, "axis": {"values": [{"year": 2022, "month": 5, "date": 1, "utc": true}, {"year": 2022, "month": 7, "date": 1, "utc": true}, {"year": 2022, "month": 9, "date": 1, "utc": true}, {"year": 2022, "month": 11, "date": 1, "utc": true}, {"year": 2023, "month": 1, "date": 1, "utc": true}, {"year": 2023, "month": 3, "date": 1, "utc": true}, {"year": 2023, "month": 5, "date": 1, "utc": true}], "format": "%Y-%m", "title": null}},
   "y": {"field": "vpt", "type": "quantitative", "scale": {"domain": [-1530000, 9210000], "nice": false, "zero": false}, "axis": {"values": [0, 2000000, 4000000, 6000000, 8000000], "labelExpr": "format(datum.value / 1000000, 'd')", "title": "1e6", "titleAngle": 0, "titleAlign": "left", "titleBaseline": "alphabetic", "titleX": 1, "titleY": -4.5}},
   "color": {"datum": "VPT", "type": "nominal", "scale": {"range": ["#0000ff"]}, "legend": {"title": null}}
  }
 }
]
}
